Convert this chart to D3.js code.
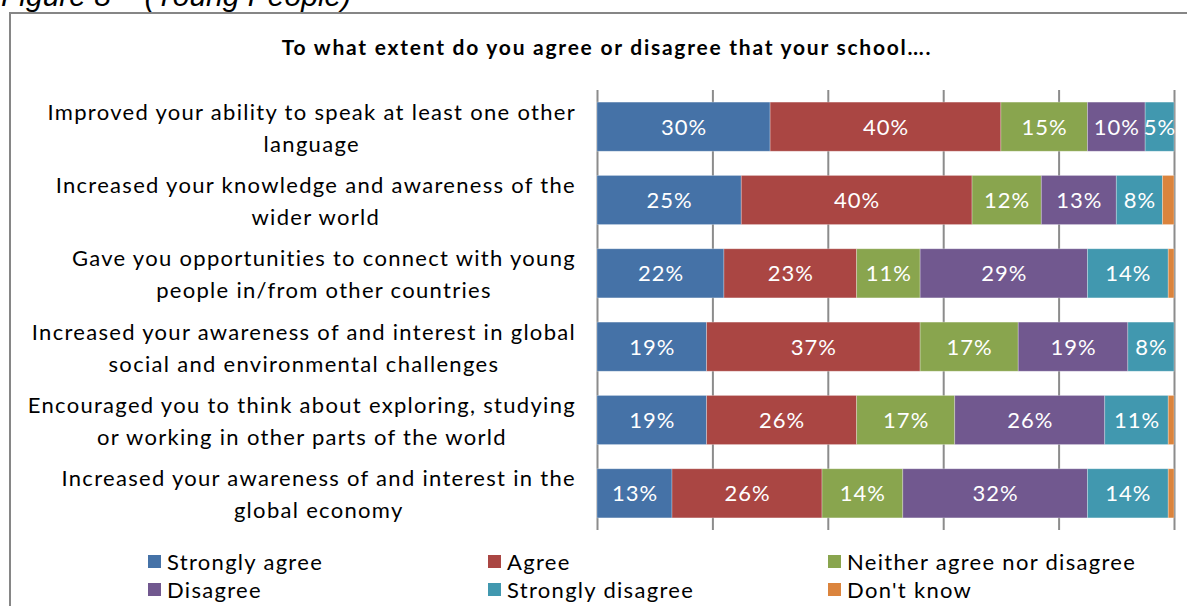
<!DOCTYPE html>
<html>
<head>
<meta charset="utf-8">
<script src="https://cdn.jsdelivr.net/npm/d3@7"></script>
<style>
  body { margin: 0; background: #fff; }
  svg { display: block; font-family: Lato, "Open Sans", sans-serif; }
</style>
</head>
<body>
<svg width="1187" height="606"></svg>
<script>
// categories, each already wrapped as in the original
var categories = [
  ["Improved your ability to speak at least one other", "language"],
  ["Increased your knowledge and awareness of the", "wider world"],
  ["Gave you opportunities to connect with young", "people in/from other countries"],
  ["Increased your awareness of and interest in global", "social and environmental challenges"],
  ["Encouraged you to think about exploring, studying", "or working in other parts of the world"],
  ["Increased your awareness of and interest in the", "global economy"]
];

var seriesNames = ["Strongly agree", "Agree", "Neither agree nor disagree", "Disagree", "Strongly disagree", "Don't know"];
var colors = ["#4572A7", "#AA4643", "#89A54E", "#71588F", "#4198AF", "#DB843D"];

var stronglyAgree    = [30, 25, 22, 19, 19, 13];
var agree            = [40, 40, 23, 37, 26, 26];
var neither          = [15, 12, 11, 17, 17, 14];
var disagree         = [10, 13, 29, 19, 26, 32];
var stronglyDisagree = [5, 8, 14, 8, 11, 14];
var dontKnow         = [0, 2, 1, 0, 1, 1];

var xTicks = [0, 20, 40, 60, 80, 100];

var allSeries = [stronglyAgree, agree, neither, disagree, stronglyDisagree, dontKnow];

var rows = categories.map(function(c, i) {
  var r = { key: i };
  seriesNames.forEach(function(s, j) { r[s] = allSeries[j][i]; });
  return r;
});

var svg = d3.select("svg");

// caption above the chart box (mostly cut off at the top)
svg.append("text")
  .attr("x", 1).attr("y", 6)
  .attr("font-family", "Liberation Sans, Arial, sans-serif")
  .attr("font-style", "italic")
  .attr("font-size", 30)
  .attr("fill", "#000")
  .text("Figure 8 \u2013 (Young People)");

// chart border
svg.append("path")
  .attr("d", "M10,620 L10,13 L1200,13")
  .attr("fill", "none")
  .attr("stroke", "#868686")
  .attr("stroke-width", 2);

// title
svg.append("text")
  .attr("x", 607).attr("y", 55)
  .attr("text-anchor", "middle")
  .attr("font-weight", "bold")
  .attr("font-size", 21)
  .attr("letter-spacing", 1.75)
  .text("To what extent do you agree or disagree that your school\u2026.");

var x = d3.scaleLinear().domain([0, 100]).range([597, 1174]);
var y = d3.scaleBand().domain(d3.range(categories.length)).range([90, 530])
  .paddingInner(0.33).paddingOuter(0.165);

// gridlines
var grid = svg.append("g")
  .attr("transform", "translate(0,530)")
  .call(d3.axisBottom(x).tickValues(xTicks).tickSize(-440).tickFormat(""));
grid.select(".domain").remove();
grid.selectAll(".tick line").attr("stroke", "#8c8c8c").attr("stroke-width", 2);

var stack = d3.stack().keys(seriesNames);
var layers = stack(rows);

var layer = svg.append("g").selectAll("g")
  .data(layers)
  .join("g")
  .attr("fill", function(d, i) { return colors[i]; });

layer.selectAll("rect")
  .data(function(d) { return d; })
  .join("rect")
  .attr("x", function(d) { return x(d[0]); })
  .attr("y", function(d, i) { return y(i); })
  .attr("width", function(d) { return x(d[1]) - x(d[0]); })
  .attr("height", y.bandwidth())
  .attr("stroke", "#ffffff")
  .attr("stroke-opacity", 0.35)
  .attr("stroke-width", 0.8);

// value labels
layer.selectAll("text")
  .data(function(d) { return d; })
  .join("text")
  .filter(function(d) { return d[1] - d[0] >= 3; })
  .attr("x", function(d) { return (x(d[0]) + x(d[1])) / 2 + 0.5; })
  .attr("y", function(d, i) { return y(d.data.key) + y.bandwidth() / 2; })
  .attr("dy", "0.36em")
  .attr("text-anchor", "middle")
  .attr("fill", "#fff")
  .attr("font-size", 22)
  .attr("letter-spacing", 1)
  .text(function(d) { return (d[1] - d[0]) + "%"; });

// category labels, lines centred on a block whose right edge sits at 575
var catG = svg.append("g");
categories.forEach(function(lines, i) {
  var g = catG.append("g");
  var cy = y(i) + y.bandwidth() / 2;
  var texts = lines.map(function(line, k) {
    return g.append("text")
      .attr("y", cy + (k === 0 ? -15 : 17))
      .attr("dy", "0.36em")
      .attr("text-anchor", "middle")
      .attr("font-size", 22)
      .attr("letter-spacing", 1.3)
      .attr("fill", "#000")
      .text(line);
  });
  var w = d3.max(texts, function(t) { return t.node().getComputedTextLength(); });
  texts.forEach(function(t) { t.attr("x", 576 - w / 2); });
});

// legend, 3 columns x 2 rows
var legCols = [148, 488, 828];
var legRows = [562, 590];
var legend = svg.append("g").selectAll("g")
  .data(seriesNames)
  .join("g")
  .attr("transform", function(d, i) {
    return "translate(" + legCols[i % 3] + "," + legRows[Math.floor(i / 3)] + ")";
  });
legend.append("rect")
  .attr("x", 0).attr("y", -7)
  .attr("width", 13).attr("height", 13)
  .attr("fill", function(d, i) { return colors[i]; });
legend.append("text")
  .attr("x", 19).attr("y", 0)
  .attr("dy", "0.36em")
  .attr("font-size", 22)
  .attr("letter-spacing", 1.3)
  .attr("fill", "#000")
  .text(function(d) { return d; });
</script>
</body>
</html>
